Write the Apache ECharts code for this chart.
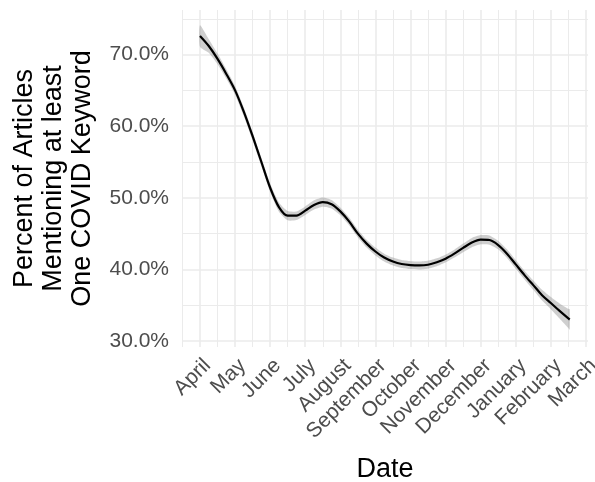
<!DOCTYPE html>
<html>
<head>
<meta charset="utf-8">
<script src="https://cdn.jsdelivr.net/npm/echarts@6/dist/echarts.min.js"></script>
<style>html,body{margin:0;padding:0;background:#fff;}#c{width:595px;height:482px;}</style>
</head>
<body>
<div id="c"></div>
<script>
const months = ['April','May','June','July','August','September','October','November','December','January','February','March'];
const monthPos = [0,1,2,3,4,5,6,7,8,9,10,11];
const minorPos = [-0.5,0.5,1.5,2.5,3.5,4.5,5.5,6.5,7.5,8.5,9.5,10.5];
const yMajor = [30,40,50,60,70];
const yMinor = [35,45,55,65,75];

// month index (0 = April) of each smoothed point
const t = [0,0.25,0.5,0.75,1,1.25,1.5,1.75,2,2.25,2.5,2.75,3,3.25,3.5,3.75,4,4.25,4.5,4.75,5,5.25,5.5,5.75,6,6.25,6.5,6.75,7,7.25,7.5,7.75,8,8.25,8.5,8.75,9,9.25,9.5,9.75,10,10.25,10.5,10.54];
// smoothed percent of articles
const pct = [72.6,71.2,69.4,67.3,65.0,62.0,58.6,55.0,51.4,48.7,47.5,47.5,48.2,49.0,49.4,49.1,48.1,46.7,45.0,43.6,42.5,41.65,41.1,40.75,40.6,40.55,40.65,41.0,41.5,42.2,43.0,43.75,44.15,44.1,43.4,42.2,40.7,39.2,37.8,36.4,35.3,34.2,33.15,33.0];
// confidence band half-width
const ciHalf = [1.5,0.95,0.75,0.65,0.6,0.6,0.6,0.6,0.6,0.65,0.65,0.6,0.6,0.65,0.65,0.6,0.55,0.55,0.55,0.55,0.55,0.55,0.55,0.55,0.55,0.55,0.55,0.55,0.55,0.55,0.6,0.65,0.65,0.65,0.6,0.6,0.6,0.6,0.65,0.75,0.85,1.05,1.35,1.45];

const X_MIN = -0.513, X_MAX = 11.06;
const Y_MIN = 29.16, Y_MAX = 76.23;
const grid = '#ebebeb';
const font = 'Liberation Sans, Arial, sans-serif';

const lineData = t.map((x,i)=>[x,pct[i]]);
const bandData = t.map((x,i)=>[x,pct[i]-ciHalf[i],pct[i]+ciHalf[i]]);

const chart = echarts.init(document.getElementById('c'), null, {renderer:'canvas'});
chart.setOption({
  animation:false,
  backgroundColor:'#fff',
  grid:{left:182, right:7, top:10, bottom:135, containLabel:false, outerBoundsMode:'none'},
  xAxis:[{
    type:'value', min:X_MIN, max:X_MAX, position:'bottom',
    name:'Date', nameLocation:'middle', nameGap:109,
    nameTextStyle:{fontFamily:font, fontSize:27, color:'#000'},
    axisLine:{show:false},
    axisTick:{show:false, customValues:monthPos},
    axisLabel:{customValues:monthPos, rotate:45, align:'right', verticalAlign:'top', margin:8,
      fontFamily:font, fontSize:21, color:'#4d4d4d',
      formatter:(v)=>months[Math.round(v)]},
    splitLine:{show:true, lineStyle:{color:grid, width:1.6}}
  },{
    type:'value', min:X_MIN, max:X_MAX, position:'bottom',
    axisLine:{show:false},
    axisTick:{show:false, customValues:minorPos},
    axisLabel:{show:false, customValues:minorPos},
    splitLine:{show:true, lineStyle:{color:grid, width:1}}
  }],
  yAxis:[{
    type:'value', min:Y_MIN, max:Y_MAX,
    name:'Percent of Articles\nMentioning at least\nOne COVID Keyword',
    nameLocation:'middle', nameGap:85, nameRotate:90,
    nameTextStyle:{fontFamily:font, fontSize:27, color:'#000', lineHeight:29},
    axisLine:{show:false},
    axisTick:{show:false, customValues:yMajor},
    axisLabel:{customValues:yMajor, margin:13, fontFamily:font, fontSize:21, color:'#4d4d4d',
      formatter:(v)=>v.toFixed(1)+'%'},
    splitLine:{show:true, lineStyle:{color:grid, width:1.6}}
  },{
    type:'value', min:Y_MIN, max:Y_MAX,
    axisLine:{show:false},
    axisTick:{show:false, customValues:yMinor},
    axisLabel:{show:false, customValues:yMinor},
    splitLine:{show:true, lineStyle:{color:grid, width:1}}
  }],
  series:[
    {type:'custom', data:bandData, silent:true, z:3,
      encode:{x:0, y:[1,2]},
      renderItem:function(params, api){
        if (params.dataIndex !== 0) return null;
        const up = [], lo = [];
        for (let i=0;i<bandData.length;i++){
          up.push(api.coord([bandData[i][0], bandData[i][2]]));
          lo.push(api.coord([bandData[i][0], bandData[i][1]]));
        }
        return {type:'polygon', shape:{points:up.concat(lo.reverse()), smooth:0.2},
          style:{fill:'rgba(140,140,140,0.42)', stroke:null}};
      }},
    {type:'line', data:lineData, smooth:0.3, symbol:'none', lineStyle:{color:'#000', width:2.2}, z:5}
  ]
});
</script>
</body>
</html>
